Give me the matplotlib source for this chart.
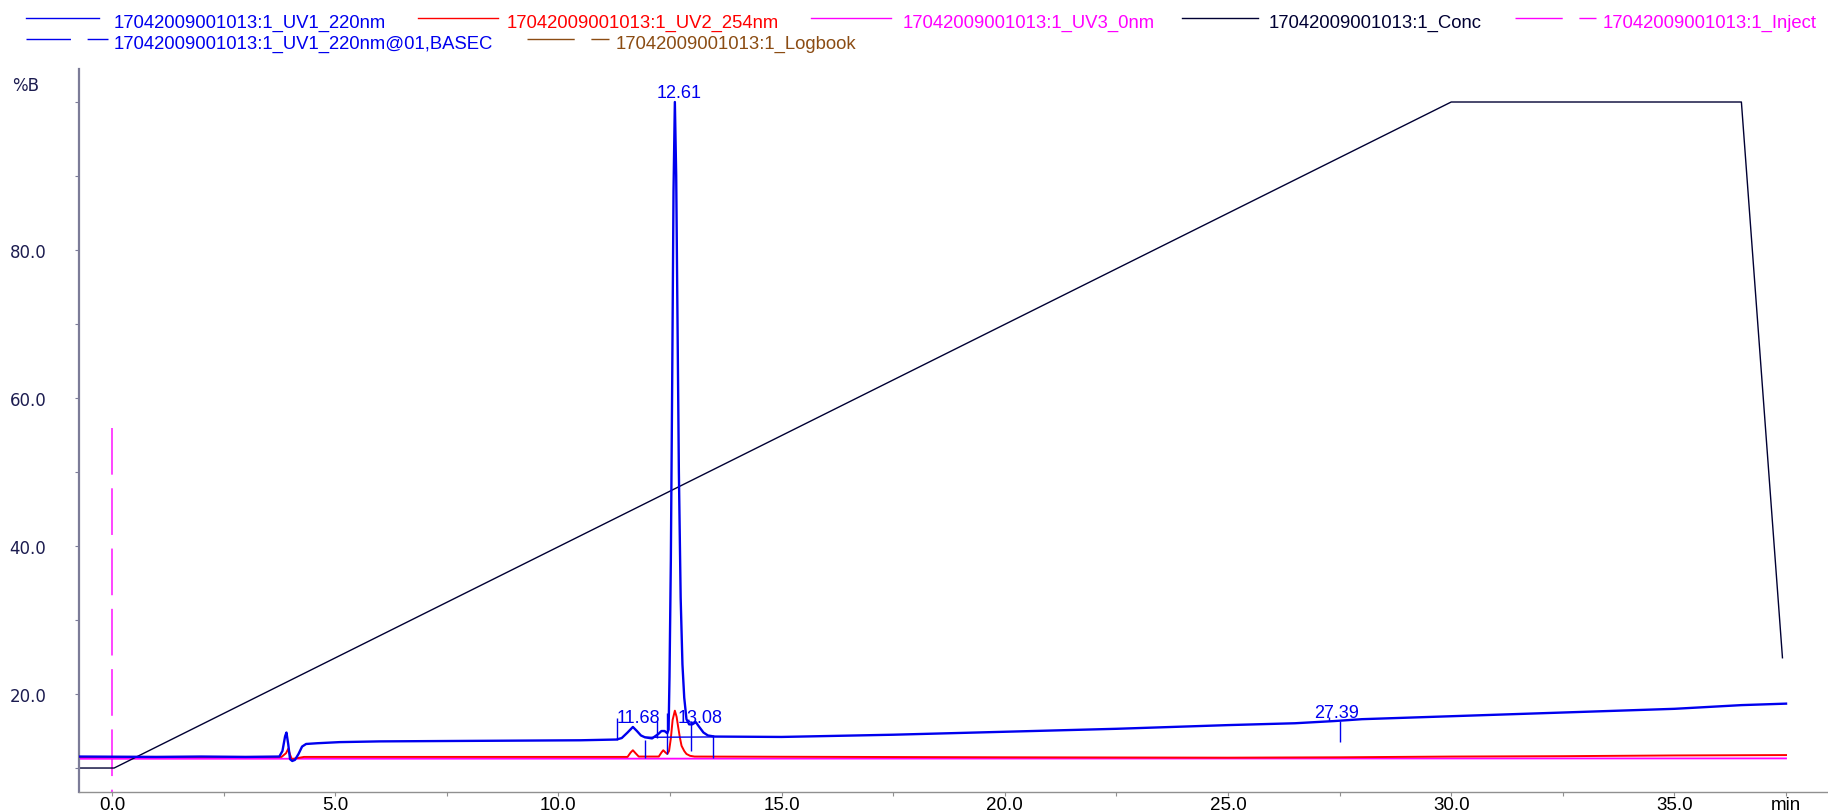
import matplotlib
matplotlib.use("Agg")
import matplotlib.pyplot as plt

# chromatogram traces (time in min, value on the %B scale)
uv1_t = [-0.74, 1.0, 2.0, 3.0, 3.75, 3.82, 3.88, 3.91, 3.95, 3.99, 4.04, 4.10, 4.18, 4.26,
         4.35, 4.6, 5.1, 6.0, 7.5, 9.0, 10.5, 11.3, 11.42, 11.55, 11.67, 11.76, 11.85, 11.94,
         12.1, 12.24, 12.31, 12.38, 12.44, 12.47, 12.49, 12.52, 12.55, 12.58, 12.61, 12.64,
         12.67, 12.70, 12.74, 12.78, 12.82, 12.87, 12.93, 13.0, 13.08, 13.15, 13.25, 13.35,
         13.5, 15.0, 17.5, 20.0, 22.5, 25.0, 26.5, 27.39, 28.0, 30.0, 32.5, 35.0, 36.5, 37.5]
uv1_v = [11.55, 11.5, 11.55, 11.5, 11.55, 12.3, 14.3, 14.8, 13.2, 11.2, 10.95, 11.1, 11.9, 12.9,
         13.25, 13.35, 13.5, 13.6, 13.65, 13.7, 13.75, 13.85, 14.05, 14.8, 15.55, 15.0, 14.4, 14.15,
         14.0, 14.6, 15.0, 15.0, 14.7, 15.2, 22.3, 38.0, 62.0, 88.0, 100.0, 90.0,
         70.0, 50.0, 33.0, 24.0, 19.5, 16.6, 15.9, 15.9, 16.2, 15.6, 14.8, 14.4,
         14.25, 14.2, 14.5, 14.9, 15.3, 15.8, 16.05, 16.35, 16.6, 17.0, 17.5, 18.0, 18.5, 18.7]

uv2_t = [-0.74, 3.8, 3.9, 3.95, 3.99, 4.03, 4.12, 4.3, 11.55, 11.62, 11.67, 11.73, 11.8,
         12.25, 12.31, 12.35, 12.40, 12.44, 12.48, 12.52, 12.56, 12.61, 12.65, 12.68, 12.72,
         12.76, 12.82, 12.87, 12.95, 13.05, 20.0, 25.0, 27.5, 30.0, 32.5, 35.0, 37.5]
uv2_v = [11.5, 11.5, 12.0, 12.6, 11.8, 11.2, 11.3, 11.5, 11.5, 12.1, 12.4, 12.0, 11.55,
         11.55, 12.1, 12.4, 12.1, 11.9, 12.3, 14.0, 16.5, 17.75, 16.9, 15.7, 14.2,
         13.0, 12.3, 11.9, 11.65, 11.55, 11.45, 11.4, 11.45, 11.55, 11.6, 11.7, 11.75]

uv3_t = [-0.74, 37.5]
uv3_v = [11.25, 11.3]

conc_t = [-0.74, 0.05, 30.0, 36.5, 37.42]
conc_v = [10.0, 10.0, 100.0, 100.0, 24.9]

inject_t = 0.0
inject_top = 56.0

basec_t = [11.94, 13.47]
basec_v = [14.15, 14.2]

# peak start / end markers
mark_t = [11.32, 11.94, 12.22, 12.44, 12.97, 13.47, 27.27, 27.50]
mark_lo = [13.85, 11.4, 14.1, 11.9, 12.35, 11.4, 16.35, 13.5]
mark_hi = [16.7, 13.8, 16.4, 17.5, 16.4, 14.4, 16.9, 16.3]

peak_labels = ['11.68', '12.61', '13.08', '27.39']
peak_label_t = [11.80, 12.70, 13.17, 27.44]
peak_label_v = [16.2, 100.7, 16.2, 16.9]

x_ticks = [0.0, 5.0, 10.0, 15.0, 20.0, 25.0, 30.0, 35.0, 37.5]
x_ticklabels = ['0.0', '5.0', '10.0', '15.0', '20.0', '25.0', '30.0', '35.0', 'min']
y_ticks = [20, 40, 60, 80]
y_ticklabels = ['20.0', '40.0', '60.0', '80.0']

BLUE = '#0000ee'
RED = '#ff0000'
MAG = '#ff00ff'
NAVY = '#000033'
BROWN = '#8b4c13'
FONT = 'Liberation Sans'

fig = plt.figure(figsize=(18.28, 8.12), dpi=100)
ax = fig.add_axes([79 / 1828, 19 / 812, 1 - 79 / 1828, (793 - 70) / 812])

ax.plot(uv3_t, uv3_v, color=MAG, lw=1.3, zorder=2)
ax.plot(uv2_t, uv2_v, color=RED, lw=1.4, zorder=3)
ax.plot(conc_t, conc_v, color=NAVY, lw=1.0, zorder=2)
ax.plot(uv1_t, uv1_v, color=BLUE, lw=1.7, zorder=4)
ax.plot(basec_t, basec_v, color=BLUE, lw=1.0, zorder=4)
ax.vlines(mark_t, mark_lo, mark_hi, color=BLUE, lw=1.0, zorder=4)
ax.plot([inject_t, inject_t], [inject_top, 6.76], color='#ff44ff', lw=1.4,
        linestyle=(0, (24, 7)), zorder=1)

for lab, t, v in zip(peak_labels, peak_label_t, peak_label_v):
    ax.text(t, v, lab, color=BLUE, fontsize=13, family=FONT, ha='center', va='baseline', zorder=5)

ax.set_xlim(-0.737, 38.44)
ax.set_ylim(6.76, 104.46)
ax.spines['top'].set_visible(False)
ax.spines['right'].set_visible(False)
ax.spines['left'].set_color('#7c7c98')
ax.spines['left'].set_linewidth(1.6)
ax.spines['bottom'].set_color('#909090')
ax.spines['bottom'].set_linewidth(1.0)

ax.set_xticks(x_ticks)
ax.set_xticklabels(x_ticklabels, fontsize=13.5, family=FONT, color='black')
ax.set_xticks([2.5, 7.5, 12.5, 17.5, 22.5, 27.5, 32.5], minor=True)
ax.set_yticks(y_ticks)
ax.set_yticklabels(y_ticklabels, fontsize=12, family='DejaVu Sans', color='#1c1c50')
ax.set_yticks([10, 30, 50, 70, 90, 100], minor=True)
ax.tick_params(axis='x', which='both', length=3, width=0.8, color='#909090', pad=0)
ax.tick_params(axis='y', which='both', length=3, width=0.8, color='#7c7c98', pad=20.5)
fig.text(12 / 1828, 1 - 86 / 812, '%B', fontsize=12, family='DejaVu Sans', color='#1c1c50',
         ha='left', va='center')

# legend drawn in figure pixels, two flowing rows
lg = fig.add_axes([0, 0, 1, 1], facecolor='none', zorder=10)
lg.set_xlim(0, 1828)
lg.set_ylim(812, 0)
lg.axis('off')
legend_rows = [
    (26, 99, 114, 0, '17042009001013:1_UV1_220nm', BLUE, '-'),
    (418, 498, 507, 0, '17042009001013:1_UV2_254nm', RED, '-'),
    (811, 891, 903, 0, '17042009001013:1_UV3_0nm', MAG, '-'),
    (1182, 1258, 1269, 0, '17042009001013:1_Conc', NAVY, '-'),
    (1515, 1596, 1603, 0, '17042009001013:1_Inject', MAG, (0, (34, 12))),
    (26, 108, 114, 1, '17042009001013:1_UV1_220nm@01,BASEC', BLUE, (0, (32, 12))),
    (527, 609, 616, 1, '17042009001013:1_Logbook', BROWN, (0, (34, 12))),
]
for x0, x1, xt, row, lab, col, ls in legend_rows:
    yl = 19 + row * 20.5
    lg.plot([x0, x1], [yl, yl], color=col, lw=1.0, linestyle=ls)
    lg.text(xt, 28.3 + row * 20.2, lab, color=col, fontsize=13.3, family=FONT,
            ha='left', va='baseline')

fig.savefig('out.png', dpi=100)
